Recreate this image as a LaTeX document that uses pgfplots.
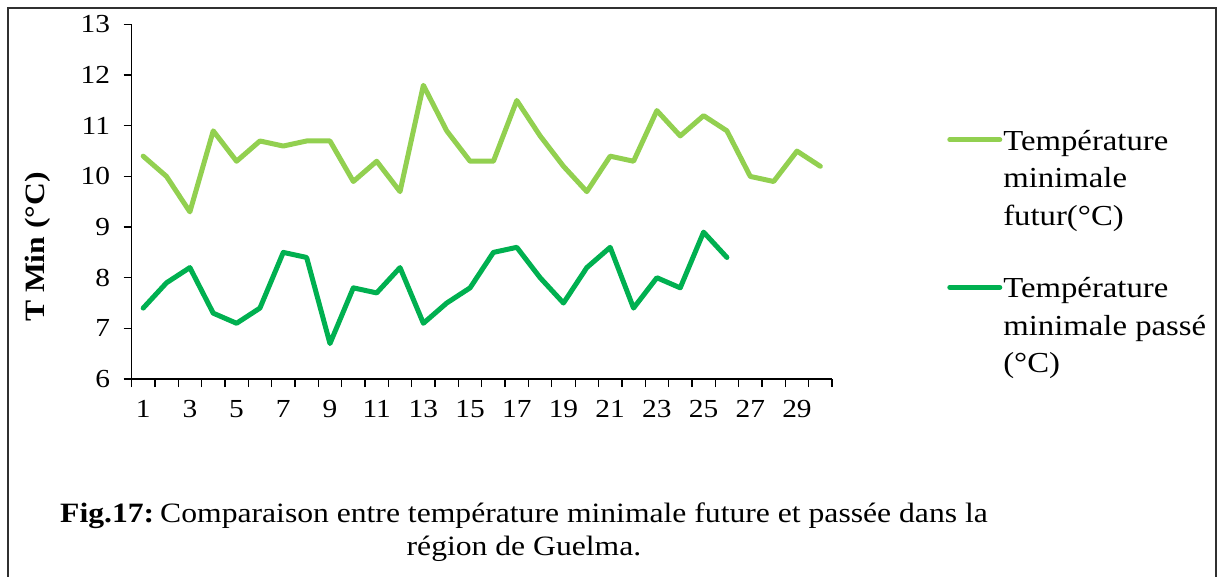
\documentclass[border=0pt]{standalone}
\usepackage{fontspec}
\setmainfont{Liberation Serif}[FakeStretch=1.13]
\usepackage{pgfplots}
\pgfplotsset{compat=1.18}
\definecolor{futur}{HTML}{92D050}
\definecolor{passe}{HTML}{00B050}
\definecolor{framec}{HTML}{303030}
\begin{document}
\begin{tikzpicture}[x=1pt,y=1pt]
\useasboundingbox (0,0) rectangle (1217,576);
\draw[line width=1.8pt, color=framec] (8,-10) -- (8,568) -- (1216,568) -- (1216,-10);
\begin{axis}[
  at={(131.5pt,197pt)}, anchor=south west,
  scale only axis, width=700.5pt, height=354.5pt,
  xmin=0.5, xmax=30.5, ymin=6, ymax=13,
  axis lines*=left,
  axis line style={line width=1.3pt, black},
  xtick={1,3,...,29},
  minor xtick={0.5,1.5,...,30.5},
  ytick={6,...,13},
  tick align=outside,
  major tick length=8pt,
  minor tick length=8pt,
  major x tick style={draw=none},
  minor x tick style={line width=1.3pt, black},
  major y tick style={line width=1.3pt, black},
  /pgf/number format/assume math mode=true,
  tick label style={font=\fontsize{26}{30}\selectfont},
  yticklabel style={xshift=-10pt},
  xticklabel style={yshift=-10pt},
  legend style={at={(1.160,0.709)}, anchor=north west, draw=none, fill=none,
    font=\fontsize{29}{37.5}\selectfont, nodes={align=left, inner sep=0pt},
    row sep=51pt, column sep=1pt},
  legend cell align=left,
  legend image code/.code={\path[draw=none,fill=none] (0pt,-40pt) rectangle (55pt,40pt);
    \draw[#1, line width=5pt, line cap=round] (2.5pt,38.5pt) -- (52.5pt,38.5pt);},
]
\addplot[futur, line width=5pt, line join=round, line cap=round] coordinates {
(1,10.4) (2,10.0) (3,9.3) (4,10.9) (5,10.3) (6,10.7) (7,10.6) (8,10.7) (9,10.7) (10,9.9)
(11,10.3) (12,9.7) (13,11.8) (14,10.9) (15,10.3) (16,10.3) (17,11.5) (18,10.8) (19,10.2) (20,9.7)
(21,10.4) (22,10.3) (23,11.3) (24,10.8) (25,11.2) (26,10.9) (27,10.0) (28,9.9) (29,10.5) (30,10.2)
};
\addlegendentry{Température\\minimale\\futur(°C)}
\addplot[passe, line width=5pt, line join=round, line cap=round] coordinates {
(1,7.4) (2,7.9) (3,8.2) (4,7.3) (5,7.1) (6,7.4) (7,8.5) (8,8.4) (9,6.7) (10,7.8)
(11,7.7) (12,8.2) (13,7.1) (14,7.5) (15,7.8) (16,8.5) (17,8.6) (18,8.0) (19,7.5) (20,8.2)
(21,8.6) (22,7.4) (23,8.0) (24,7.8) (25,8.9) (26,8.4)
};
\addlegendentry{Température\\minimale passé\\(°C)}
\end{axis}
\node[rotate=90, font=\bfseries\fontsize{28}{30}\selectfont] at (38,329) {T Min (°C)};
\node[align=center, font=\fontsize{28}{33}\selectfont, anchor=base] at (524,21)
  {\textbf{Fig.17:}\hspace{6pt}Comparaison entre température minimale future et passée dans la\\région de Guelma.};
\end{tikzpicture}
\end{document}
